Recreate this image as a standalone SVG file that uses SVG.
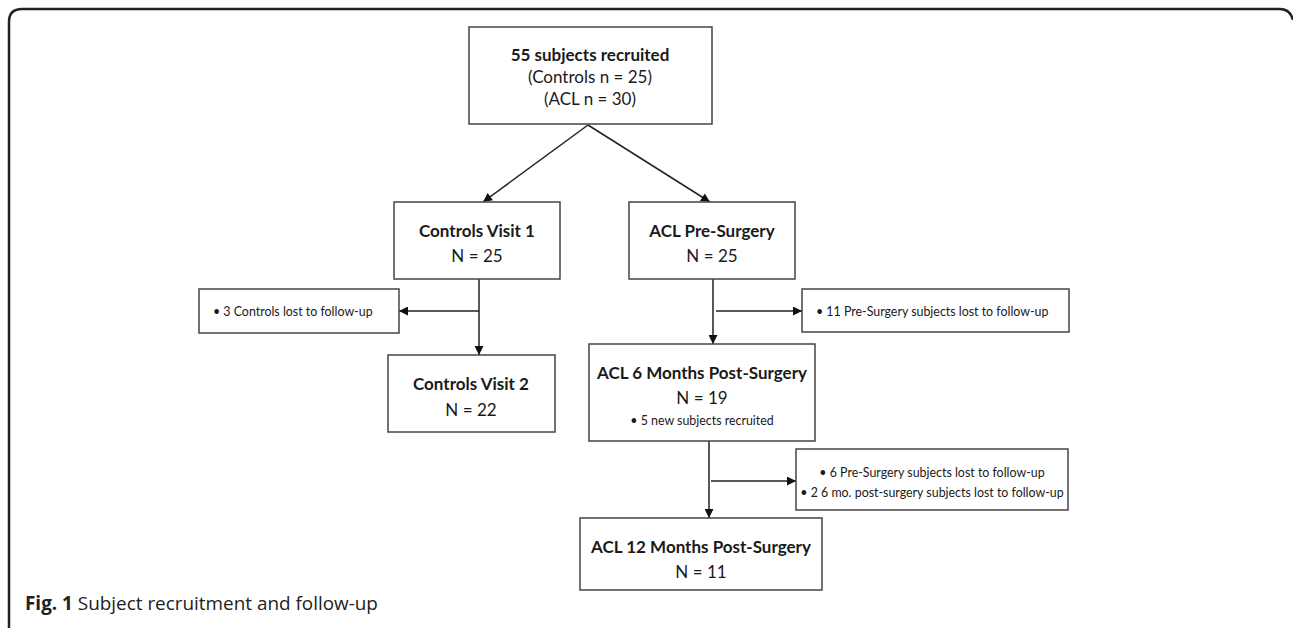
<svg xmlns="http://www.w3.org/2000/svg" width="1293" height="628" viewBox="0 0 1293 628">
<defs>
<marker id="ah" viewBox="0 0 10 10" refX="10" refY="5" markerWidth="10" markerHeight="9" markerUnits="userSpaceOnUse" orient="auto">
<path d="M0,0 L10,5 L0,10 z" fill="#111"/>
</marker>
<style>
.box{fill:#fff;stroke:#444;stroke-width:1.5}
.t{font-family:Lato,"Open Sans","Liberation Sans",sans-serif;font-size:17px;fill:#1a1a1a;text-anchor:middle}
.b{font-weight:bold}
.s{font-family:Lato,"Open Sans","Liberation Sans",sans-serif;font-size:12.4px;fill:#1a1a1a}
.c{stroke:#222;stroke-width:1.5;fill:none;marker-end:url(#ah)}
.cap{font-family:"Open Sans","Liberation Sans",sans-serif;font-size:18.9px;fill:#222}
</style>
</defs>
<rect width="1293" height="628" fill="#fff"/>
<path d="M9,628 V22 Q9,9 22,9 H1280 Q1290,9 1293,20" fill="none" stroke="#222" stroke-width="2.5"/>
<g id="connectors">
<line class="c" x1="588" y1="125" x2="483" y2="202"/>
<line class="c" x1="588" y1="125" x2="710" y2="202"/>
<line class="c" x1="479" y1="279" x2="479" y2="355"/>
<line class="c" x1="479" y1="311" x2="399" y2="311"/>
<line class="c" x1="713" y1="279" x2="713" y2="344"/>
<line class="c" x1="716" y1="311" x2="802" y2="311"/>
<line class="c" x1="709" y1="441" x2="709" y2="518"/>
<line class="c" x1="711" y1="481" x2="796" y2="481"/>
</g>
<g id="n-recruited">
<rect class="box" x="469" y="27" width="243" height="97"/>
<text class="t b" x="590" y="61">55 subjects recruited</text>
<text class="t" x="590" y="83">(Controls n = 25)</text>
<text class="t" x="590" y="105">(ACL n = 30)</text>
</g>
<g id="n-controls1">
<rect class="box" x="394" y="202" width="166" height="77"/>
<text class="t b" x="477" y="237">Controls Visit 1</text>
<text class="t" x="477" y="262">N = 25</text>
</g>
<g id="n-aclpre">
<rect class="box" x="629" y="202" width="166" height="77"/>
<text class="t b" x="712" y="237">ACL Pre-Surgery</text>
<text class="t" x="712" y="262">N = 25</text>
</g>
<g id="n-lost1">
<rect class="box" x="199" y="289" width="200" height="44"/>
<text class="s" x="213" y="316">• 3 Controls lost to follow-up</text>
</g>
<g id="n-lost2">
<rect class="box" x="802" y="289" width="267" height="43"/>
<text class="s" x="816" y="316">• 11 Pre-Surgery subjects lost to follow-up</text>
</g>
<g id="n-controls2">
<rect class="box" x="388" y="355" width="167" height="77"/>
<text class="t b" x="471" y="390">Controls Visit 2</text>
<text class="t" x="471" y="416">N = 22</text>
</g>
<g id="n-acl6">
<rect class="box" x="589" y="344" width="226" height="97"/>
<text class="t b" x="702" y="379">ACL 6 Months Post-Surgery</text>
<text class="t" x="702" y="404">N = 19</text>
<text class="s" x="702" y="425" text-anchor="middle">• 5 new subjects recruited</text>
</g>
<g id="n-lost3">
<rect class="box" x="796" y="449" width="272" height="61"/>
<text class="s" x="932" y="477" text-anchor="middle">• 6 Pre-Surgery subjects lost to follow-up</text>
<text class="s" x="932" y="497" text-anchor="middle">• 2 6 mo. post-surgery subjects lost to follow-up</text>
</g>
<g id="n-acl12">
<rect class="box" x="580" y="518" width="242" height="72"/>
<text class="t b" x="701" y="553">ACL 12 Months Post-Surgery</text>
<text class="t" x="701" y="578">N = 11</text>
</g>
<text class="cap" x="25" y="610"><tspan font-weight="bold">Fig. 1</tspan> Subject recruitment and follow-up</text>
</svg>
